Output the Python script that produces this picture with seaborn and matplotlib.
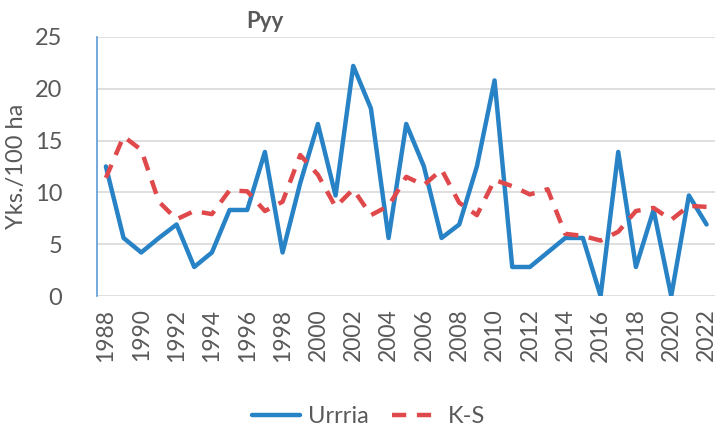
import pandas as pd
import matplotlib
matplotlib.use("Agg")
import matplotlib.pyplot as plt
import seaborn as sns
from matplotlib.lines import Line2D

years = list(range(1988, 2023))
urrria = [12.5, 5.6, 4.2, 5.6, 6.9, 2.8, 4.2, 8.3, 8.3, 13.9,
          4.2, 10.9, 16.6, 9.7, 22.2, 18.1, 5.6, 16.6, 12.5, 5.6,
          6.9, 12.5, 20.8, 2.8, 2.8, 4.2, 5.6, 5.6, 0.0, 13.9,
          2.8, 8.3, 0.0, 9.7, 6.9]
ks = [11.4, 15.4, 14.1, 9.1, 7.4, 8.2, 7.9, 10.2, 10.1, 8.2,
      9.1, 13.6, 11.7, 8.6, 10.3, 7.8, 8.7, 11.5, 10.7, 12.2,
      9.0, 7.8, 11.2, 10.6, 9.8, 10.3, 6.0, 5.8, 5.35, 6.2,
      8.2, 8.5, 7.35, 8.7, 8.6]
series_names = ["Urrria", "K-S"]

df = pd.DataFrame({"Vuosi": years * 2,
                   "Arvo": urrria + ks,
                   "Sarja": [series_names[0]] * len(years) + [series_names[1]] * len(years)})

sns.set_style("white")
plt.rcParams['font.family'] = ['Lato', 'DejaVu Sans']

fig = plt.figure(figsize=(7.19, 4.29), dpi=100)
ax = fig.add_axes([0.135, 0.31, 0.86, 0.604])

palette = {"Urrria": "#2882c6", "K-S": "#e0494b"}
sns.lineplot(data=df, x="Vuosi", y="Arvo", hue="Sarja", style="Sarja",
             dashes={"Urrria": "", "K-S": (3.2, 2.4)}, palette=palette,
             linewidth=3.2, ax=ax, legend=False)

ax.set_xlim(1987.5, 2022.5)
ax.set_ylim(0, 25)
ax.set_yticks(range(0, 26, 5))
ax.set_xticks(years[::2])
ax.set_xticklabels([str(y) for y in years[::2]], rotation=90)
ax.tick_params(axis='both', length=0, colors="#595959")
ax.tick_params(axis='y', pad=25, labelsize=17)
ax.tick_params(axis='x', pad=9, labelsize=16.5)
ax.grid(axis='y', color="#d9d9d9", linewidth=1.2)
ax.set_axisbelow(True)
for s in ["top", "right", "bottom"]:
    ax.spines[s].set_visible(False)
ax.spines["left"].set_color("#5b9bd5")
ax.spines["left"].set_linewidth(1.2)

ax.set_xlabel("")
ax.set_ylabel("Yks./100 ha", fontsize=17, color="#595959", labelpad=6)
fig.text(265 / 719, 1 - 22 / 429, "Pyy", ha="center", va="center",
         fontsize=16, fontweight="bold", color="#595959")

handles = [Line2D([], [], color=palette["Urrria"], linewidth=3.2),
           Line2D([], [], color=palette["K-S"], linewidth=3.2, dashes=(3.2, 2.4))]
fig.legend(handles, series_names, loc="lower center", bbox_to_anchor=(0.513, -0.045),
           ncol=2, frameon=False, fontsize=17, labelcolor="#595959",
           handlelength=2.0, columnspacing=1.0, handletextpad=0.35)

fig.savefig("out.png", dpi=100)
